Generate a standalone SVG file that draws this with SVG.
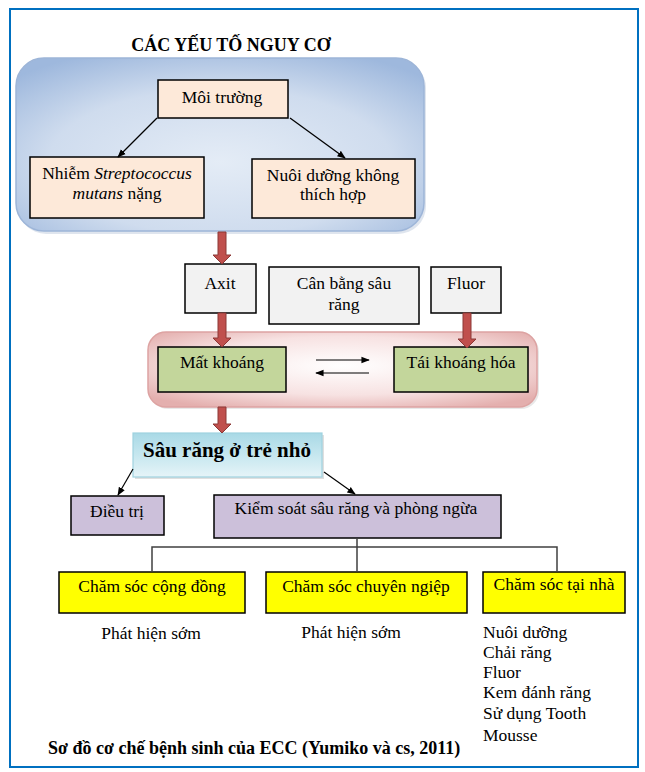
<svg xmlns="http://www.w3.org/2000/svg" width="645" height="772" viewBox="0 0 645 772">
<defs>
<radialGradient id="gBlue" cx="0.5" cy="0.6" r="0.7">
<stop offset="0" stop-color="#E4ECF6"/>
<stop offset="0.6" stop-color="#CFDCEE"/>
<stop offset="1" stop-color="#9EB8DD"/>
</radialGradient>
<radialGradient id="gPink" cx="0.5" cy="0.45" r="0.65">
<stop offset="0" stop-color="#FFFFFF"/>
<stop offset="0.6" stop-color="#F7E2E2"/>
<stop offset="1" stop-color="#E4AFAE"/>
</radialGradient>
<linearGradient id="gCyan" x1="0" y1="0" x2="0" y2="1">
<stop offset="0" stop-color="#A9D9E6"/>
<stop offset="0.5" stop-color="#C6E7EF"/>
<stop offset="1" stop-color="#E6F4F8"/>
</linearGradient>
<marker id="ah" viewBox="0 0 10 10" refX="9" refY="5" markerWidth="7" markerHeight="7" orient="auto">
<path d="M0,1 L10,5 L0,9 z" fill="#000"/>
</marker>
</defs>
<style>
text{font-family:"Liberation Serif","Times New Roman",serif;fill:#000;}
.t{font-size:17.5px;text-anchor:middle;}
.l{font-size:17.5px;}
.b{font-weight:bold;}
.box{stroke:#000;stroke-width:1.5;}
.peach{fill:#FDE9D9;}
.gray{fill:#F2F2F2;}
.green{fill:#C3D69B;}
.lav{fill:#CCC0DA;}
.yel{fill:#FFFF00;}
.red{fill:#C0504D;stroke:#8C3836;stroke-width:1;}
.ln{stroke:#000;stroke-width:1.2;fill:none;}
.tree{stroke:#404040;stroke-width:1.5;fill:none;}
</style>
<rect x="10" y="9" width="628" height="758" fill="#FFFFFF" stroke="#0070C0" stroke-width="2"/>
<text x="231" y="51" class="b" font-size="18" text-anchor="middle">CÁC YẾU TỐ NGUY CƠ</text>

<g id="risk-region">
<rect x="18" y="60" width="408" height="174" rx="28" fill="#C9D3E2" opacity="0.6"/>
<rect x="16" y="58" width="408" height="173" rx="28" fill="url(#gBlue)" stroke="#9DB5D8" stroke-width="1.5"/>
</g>
<g id="moi-truong">
<rect x="158" y="80" width="130" height="38" class="box peach"/>
<text x="222" y="103" class="t">Môi trường</text>
</g>
<g id="nhiem">
<rect x="30" y="157" width="174" height="61" class="box peach"/>
<text x="117" y="179" class="t">Nhiễm <tspan font-style="italic">Streptococcus</tspan></text>
<text x="117" y="199" class="t"><tspan font-style="italic">mutans</tspan> nặng</text>
</g>
<g id="nuoi-duong">
<rect x="252" y="159" width="163" height="59" class="box peach"/>
<text x="333" y="181" class="t">Nuôi dưỡng không</text>
<text x="333" y="200" class="t">thích hợp</text>
</g>

<g id="axit">
<rect x="185" y="264" width="71" height="49" class="box gray"/>
<text x="220" y="289" class="t">Axit</text>
</g>
<g id="can-bang">
<rect x="269" y="267" width="150" height="57" class="box gray"/>
<text x="344" y="289" class="t">Cân bằng sâu</text>
<text x="344" y="310" class="t">răng</text>
</g>
<g id="fluor">
<rect x="431" y="267" width="70" height="46" class="box gray"/>
<text x="466" y="289" class="t">Fluor</text>
</g>

<g id="mineral-region">
<rect x="150" y="334" width="389" height="75" rx="18" fill="#D8D8D8" opacity="0.6"/>
<rect x="148" y="332" width="389" height="75" rx="18" fill="url(#gPink)" stroke="#DDA3A2" stroke-width="1.5"/>
</g>
<g id="mat-khoang">
<rect x="158" y="347" width="128" height="45" class="box green"/>
<text x="222" y="368" class="t">Mất khoáng</text>
</g>
<g id="tai-khoang">
<rect x="394" y="347" width="134" height="45" class="box green"/>
<text x="461" y="368" class="t">Tái khoáng hóa</text>
</g>

<g id="sau-rang">
<rect x="135" y="435" width="189" height="44" fill="#BFBFBF" opacity="0.5"/>
<rect x="133" y="433" width="189" height="44" fill="url(#gCyan)" stroke="#9FD2E0" stroke-width="1.2"/>
<text x="227" y="457" font-size="21" text-anchor="middle" class="b">Sâu răng ở trẻ nhỏ</text>
</g>
<g id="dieu-tri">
<rect x="71" y="496" width="93" height="39" class="box lav"/>
<text x="117" y="517" class="t">Điều trị</text>
</g>
<g id="kiem-soat">
<rect x="214" y="495" width="287" height="43" class="box lav"/>
<text x="356" y="514" class="t">Kiểm soát sâu răng và phòng ngừa</text>
</g>

<g id="cong-dong">
<rect x="59" y="572" width="186" height="41" class="box yel"/>
<text x="152" y="592" class="t">Chăm sóc cộng đồng</text>
<text x="151" y="639" class="t">Phát hiện sớm</text>
</g>
<g id="chuyen-nghiep">
<rect x="266" y="572" width="201" height="41" class="box yel"/>
<text x="366" y="592" class="t">Chăm sóc chuyên ngiệp</text>
<text x="351" y="638" class="t">Phát hiện sớm</text>
</g>
<g id="tai-nha">
<rect x="483" y="572" width="142" height="41" class="box yel"/>
<text x="554" y="590" class="t">Chăm sóc tại nhà</text>
<text x="483" y="638" class="l">Nuôi dưỡng</text>
<text x="483" y="658" class="l">Chải răng</text>
<text x="483" y="678" class="l">Fluor</text>
<text x="483" y="698" class="l">Kem đánh răng</text>
<text x="483" y="719" class="l">Sử dụng Tooth</text>
<text x="483" y="741" class="l">Mousse</text>
</g>

<g id="connectors">
<line x1="157" y1="118" x2="118" y2="157" class="ln" marker-end="url(#ah)"/>
<line x1="290" y1="118" x2="345" y2="158" class="ln" marker-end="url(#ah)"/>
<path d="M218,232 L226,232 L226,255 L231,255 L222,264 L213,255 L218,255 Z" class="red"/>
<path d="M218,313 L226,313 L226,338 L231,338 L222,347 L213,338 L218,338 Z" class="red"/>
<path d="M463,313 L471,313 L471,339 L476,339 L467,348 L458,339 L463,339 Z" class="red"/>
<path d="M218,407 L226,407 L226,424 L231,424 L222,433 L213,424 L218,424 Z" class="red"/>
<line x1="316" y1="360" x2="369" y2="360" class="ln" marker-end="url(#ah)"/>
<line x1="369" y1="373" x2="316" y2="373" class="ln" marker-end="url(#ah)"/>
<line x1="133" y1="469" x2="118" y2="495" class="ln" marker-end="url(#ah)"/>
<line x1="324" y1="472" x2="355" y2="494" class="ln" marker-end="url(#ah)"/>
<path d="M357,538 L357,572 M152,572 L152,547 L557,547 L557,572" class="tree"/>
</g>
<text x="48" y="754" class="b" font-size="18">Sơ đồ cơ chế bệnh sinh của ECC (Yumiko và cs, 2011)</text>
</svg>
